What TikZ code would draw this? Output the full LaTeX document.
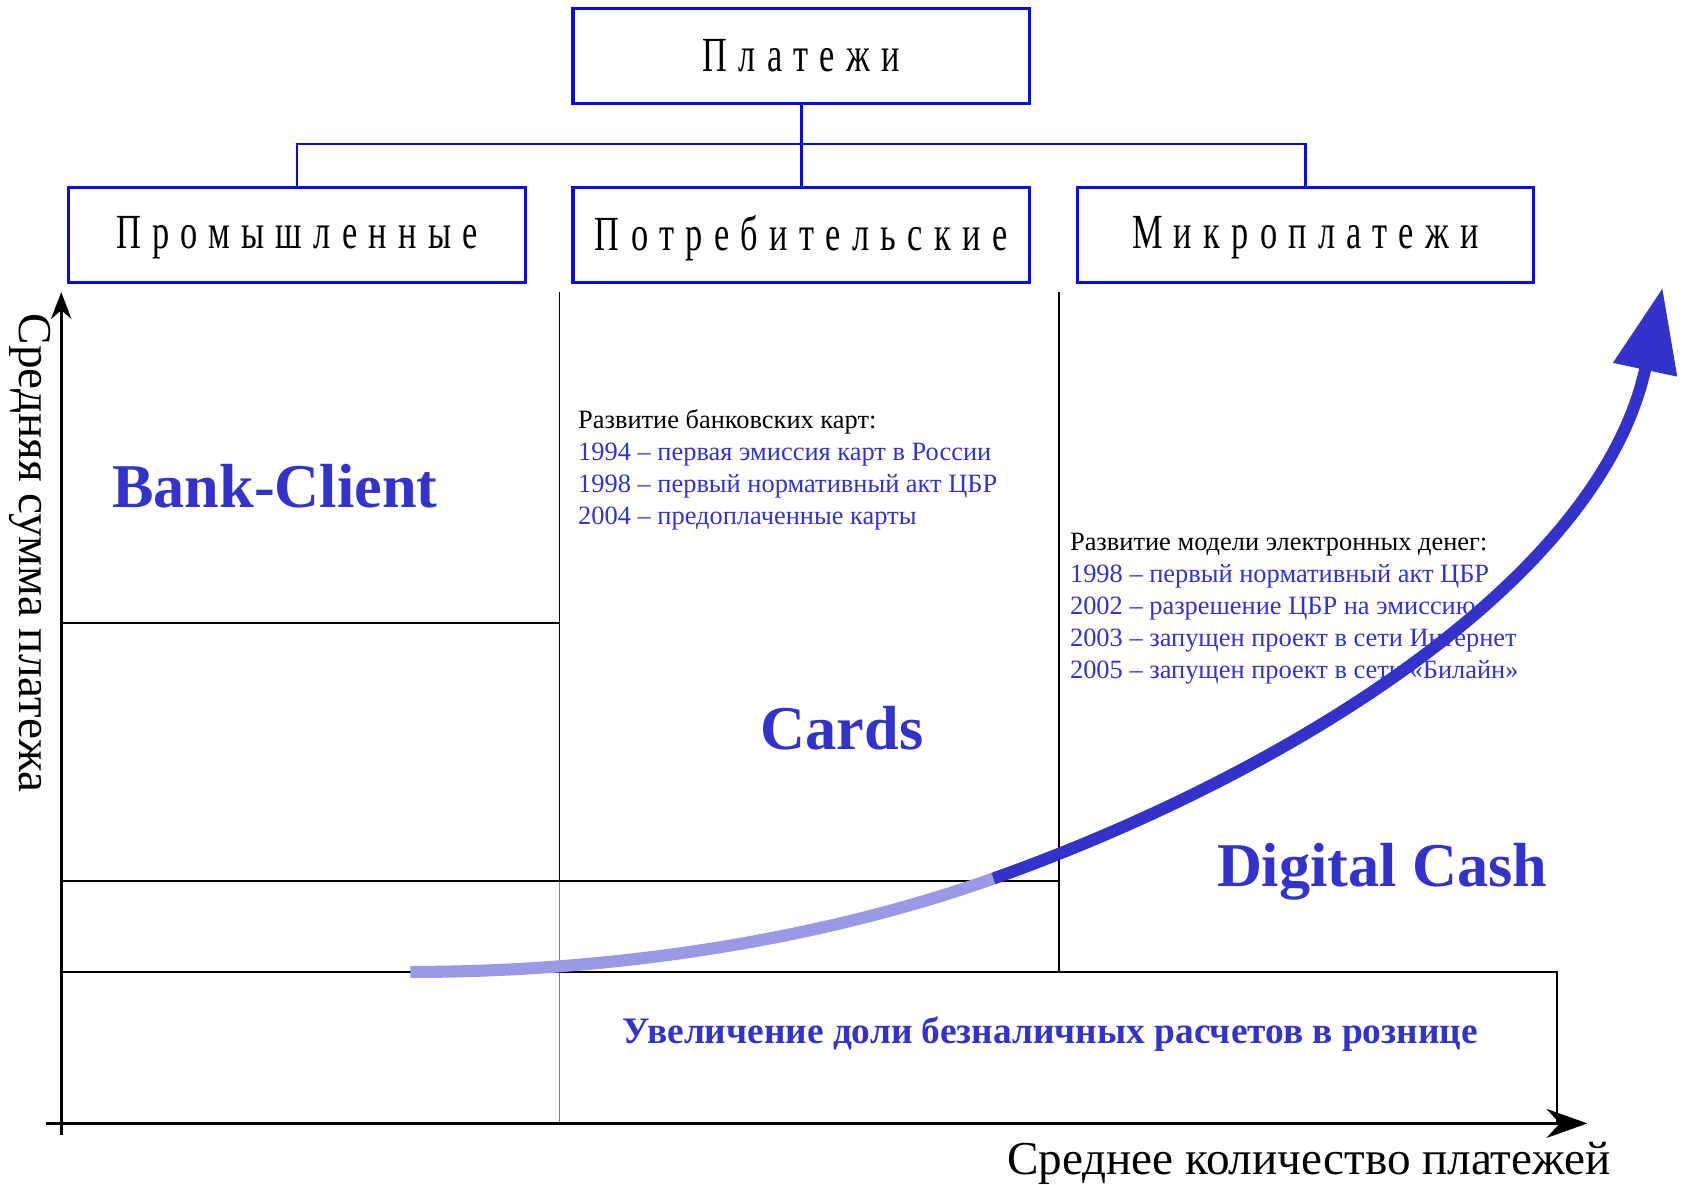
\documentclass[tikz,border=0pt]{standalone}
\usepackage{fontspec}
\setmainfont{Liberation Serif}
\newfontfamily\headfont[LetterSpace=33]{Liberation Serif}
\usetikzlibrary{arrows.meta}
\definecolor{boxblue}{RGB}{10,10,230}
\definecolor{textblue}{RGB}{51,51,204}
\definecolor{lightblue}{RGB}{153,153,230}
\newcommand{\spaced}[1]{\scalebox{0.7}[1]{\headfont\fontsize{26}{30}\selectfont #1}}

\begin{document}
\begin{tikzpicture}[x=0.02cm,y=-0.02cm,
  headbox/.style={draw=boxblue,line width=1.7pt,minimum width=8.5cm,minimum height=1.77cm,inner sep=0pt},
  subbox/.style={headbox,text depth=0.08cm},
  link/.style={boxblue,line width=1.5pt},
  bigtitle/.style={text=textblue,inner sep=0pt,font=\bfseries\fontsize{33}{36}\selectfont},
  note/.style={align=left,anchor=north west,inner sep=0pt,text=textblue,font=\fontsize{14}{17}\selectfont},
  axis/.style={line width=1.8pt},
  grid/.style={line width=0.8pt}]
\useasboundingbox (0,0) rectangle (1568,1103);

% tree of payment kinds
\node[headbox] (pay) at (746,52) {\spaced{Платежи}};
\node[subbox] (ind) at (276.5,218.5) {\spaced{Промышленные}};
\node[subbox] (cons) at (746,218.5) {\spaced{Потребительские}};
\node[subbox] (micro) at (1215.5,218.5) {\spaced{Микроплатежи}};
\coordinate (fork) at (746,134);
\draw[link] (pay.south) -- (cons.north);
\draw[link] (ind.north) |- (fork) -| (micro.north);

% grid
\draw[grid] (521,272) -- (521,820);
\draw[grid,gray] (521,820) -- (521,1046);
\draw[grid] (986,272) -- (986,905);
\draw[grid] (57,580) -- (521,580);
\draw[line width=1.1pt] (57,820) -- (986,820);
\draw[line width=1.1pt] (57,905) -- (1450,905) -- (1450,1046);

% axes
\draw[axis,-{Stealth[length=0.5cm,width=0.38cm]}] (57,1057) -- (57,272);
\draw[axis,-{Stealth[length=0.76cm,width=0.54cm]}] (43,1046) -- (1478,1046);
\node[rotate=-90,inner sep=0pt,font=\fontsize{25}{28}\selectfont] (ylab) at (28,515) {Средняя сумма платежа};
\node[anchor=base east,inner sep=0pt,font=\fontsize{25}{28}\selectfont] (xlab) at (1500,1094) {Среднее количество платежей};

% titles
\node[bigtitle] (bank) at (256,453) {Bank-Client};
\node[bigtitle] (cards) at (784,678) {Cards};
\node[bigtitle] (dcash) at (1287,812) {Digital Cash};
\node[text=textblue,inner sep=0pt,font=\bfseries\fontsize{19.8}{24}\selectfont] (share) at (978,963) {Увеличение доли безналичных расчетов в рознице};

% notes
\node[note] (cardnote) at (538,381) {\textcolor{black}{Развитие банковских карт:}\\
1994 – первая эмиссия карт в России\\
1998 – первый нормативный акт ЦБР\\
2004 – предоплаченные карты};
\node[note] (cashnote) at (996,496) {\textcolor{black}{Развитие модели электронных денег:}\\
1998 – первый нормативный акт ЦБР\\
2002 – разрешение ЦБР на эмиссию\\
2003 – запущен проект в сети Интернет\\
2005 – запущен проект в сети «Билайн»};

% growth curve
\draw[lightblue,line width=6.4pt] (382,905) .. controls (580,905) and (770,873) .. (925,818);
\draw[textblue,line width=6.4pt,-{Triangle[length=1.56cm,width=1.16cm]}] (925,818) .. controls (1200,720) and (1490,540) .. (1548,268);
\end{tikzpicture}
\end{document}
